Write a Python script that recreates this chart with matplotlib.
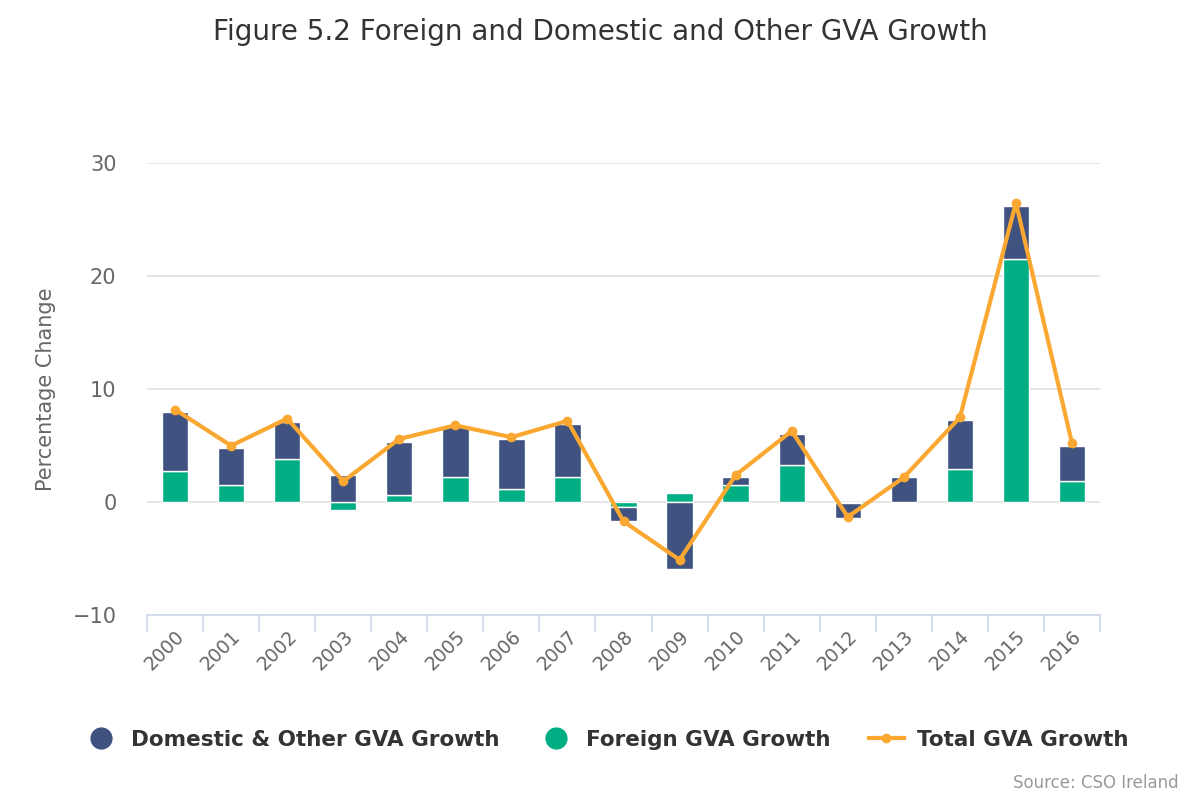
import numpy as np
import matplotlib.pyplot as plt
from matplotlib.lines import Line2D

years = [str(y) for y in range(2000, 2017)]
domestic = [5.2, 3.3, 3.3, 2.4, 4.7, 4.45, 4.35, 4.7, -1.25, -5.9, 0.7, 2.8, -1.35, 2.2, 4.35, 4.7, 3.1]
foreign = [2.8, 1.5, 3.8, -0.65, 0.65, 2.25, 1.2, 2.25, -0.45, 0.8, 1.5, 3.25, -0.05, 0.0, 2.95, 21.5, 1.9]
total = [8.2, 5.0, 7.4, 1.85, 5.6, 6.8, 5.75, 7.2, -1.7, -5.1, 2.4, 6.3, -1.3, 2.2, 7.5, 26.5, 5.2]

c_dom = "#3f5280"
c_for = "#00ae84"
c_tot = "#fba832"

dom = np.array(domestic)
fgn = np.array(foreign)
x = np.arange(len(years))

# positive and negative stacks, foreign nearest to zero
f_pos = np.where(fgn > 0, fgn, 0)
f_neg = np.where(fgn < 0, fgn, 0)
d_bottom = np.where(dom >= 0, f_pos, f_neg)

fig = plt.figure(figsize=(12, 8), dpi=100)
ax = fig.add_axes([0.1225, 0.231, 0.7942, 0.565])

ax.bar(x, fgn, width=0.47, color=c_for, edgecolor="white", linewidth=1, zorder=2)
ax.bar(x, dom, bottom=d_bottom, width=0.47, color=c_dom, edgecolor="white", linewidth=1, zorder=2)
ax.plot(x, total, color=c_tot, lw=3, marker="o", ms=6, zorder=3)

ax.set_xlim(-0.5, len(years) - 0.5)
ax.set_ylim(-10, 30)
ax.set_yticks([-10, 0, 10, 20, 30])
ax.set_yticklabels(["\u221210", "0", "10", "20", "30"])
ax.grid(axis="y", color="#e3e3e3", lw=1.3, zorder=0)
ax.set_axisbelow(True)

for s in ["top", "right", "left"]:
    ax.spines[s].set_visible(False)
ax.spines["bottom"].set_color("#ccd6eb")
ax.spines["bottom"].set_linewidth(1.2)

ax.set_xticks(x)
ax.set_xticklabels(years, rotation=45, ha="right", rotation_mode="anchor", fontsize=13.5, color="#666666")
ax.tick_params(axis="x", length=0, pad=8)
ax.set_xticks(np.arange(-0.5, len(years)), minor=True)
ax.tick_params(axis="x", which="minor", length=12, color="#ccd6eb", width=1.2)
ax.tick_params(axis="y", length=0, labelsize=15, labelcolor="#666666", pad=22)

ax.set_ylabel("Percentage Change", fontsize=15, color="#666666", labelpad=12)

fig.text(0.5, 0.96, "Figure 5.2 Foreign and Domestic and Other GVA Growth", ha="center", va="center",
         fontsize=20, color="#333333")

handles = [
    Line2D([0], [0], marker="o", color="w", markerfacecolor=c_dom, markersize=17, lw=0),
    Line2D([0], [0], marker="o", color="w", markerfacecolor=c_for, markersize=17, lw=0),
    Line2D([0], [0], marker="o", color=c_tot, markersize=6, lw=3),
]
labels = ["Domestic & Other GVA Growth", "Foreign GVA Growth", "Total GVA Growth"]
fig.legend(handles, labels, loc="center", bbox_to_anchor=(0.505, 0.075), ncol=3, frameon=False,
           prop={"size": 15.5, "weight": "bold"}, labelcolor="#333333", handlelength=1.6,
           columnspacing=1.8, handletextpad=0.6)

fig.text(0.982, 0.021, "Source: CSO Ireland", ha="right", va="center", fontsize=12, color="#999999")

fig.savefig("out.png", dpi=100)
